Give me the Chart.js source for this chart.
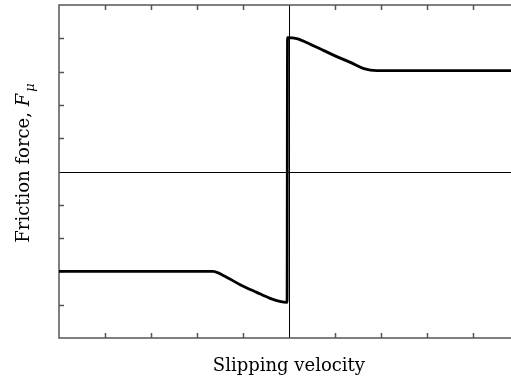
<!DOCTYPE html>
<html>
<head>
<meta charset="utf-8">
<script src="https://cdn.jsdelivr.net/npm/chart.js@4/dist/chart.umd.min.js"></script>
<style>
html,body{margin:0;padding:0;background:#fff;}
#wrap{width:511px;height:380px;}
</style>
</head>
<body>
<div id="wrap"><canvas id="c" width="511" height="380"></canvas></div>
<script>
const velocity = [-5, -1.65, -1.43, -1.07, -0.70, -0.41, -0.20, -0.04, -0.03, 0.17, 0.48, 0.76, 1.04, 1.35, 1.63, 1.91, 4.83];
const friction = [-3.0, -3.0, -3.12, -3.39, -3.63, -3.81, -3.90, -3.93, 4.02, 3.99, 3.81, 3.63, 3.45, 3.27, 3.09, 3.03, 3.03];
const xTicks = [-4, -3, -2, -1, 0, 1, 2, 3, 4];
const yTicks = [-4, -3, -2, -1, 0, 1, 2, 3, 4];
const xLabel = "Slipping velocity";
const yLabelMain = "Friction force, ";
const yLabelSym = "F";
const yLabelSub = "\u03BC";

const points = velocity.map((v, i) => ({x: v, y: friction[i]}));

const framePlugin = {
  id: 'frame',
  beforeDatasetsDraw(chart) {
    const {ctx, chartArea: a, scales: {x, y}} = chart;
    ctx.save();
    ctx.strokeStyle = '#000';
    ctx.lineWidth = 1;
    const x0 = Math.round(x.getPixelForValue(0)) + 0.5;
    const y0 = Math.round(y.getPixelForValue(0)) + 0.5;
    ctx.beginPath();
    ctx.moveTo(a.left, y0); ctx.lineTo(a.right, y0);
    ctx.moveTo(x0, a.top); ctx.lineTo(x0, a.bottom);
    ctx.stroke();
    ctx.strokeStyle = '#555';
    ctx.lineWidth = 1.5;
    ctx.beginPath();
    ctx.moveTo(a.right + 2, a.top); ctx.lineTo(a.left, a.top);
    ctx.lineTo(a.left, a.bottom); ctx.lineTo(a.right + 2, a.bottom);
    ctx.stroke();
    ctx.beginPath();
    xTicks.forEach(t => {
      if (t === 0) return;
      const px = Math.round(x.getPixelForValue(t)) + 0.5;
      ctx.moveTo(px, a.bottom); ctx.lineTo(px, a.bottom - 5);
      ctx.moveTo(px, a.top); ctx.lineTo(px, a.top + 5);
    });
    yTicks.forEach(t => {
      if (t === 0) return;
      const py = Math.round(y.getPixelForValue(t)) + 0.5;
      ctx.moveTo(a.left, py); ctx.lineTo(a.left + 5, py);
    });
    ctx.stroke();
    ctx.fillStyle = '#000';
    ctx.textBaseline = 'alphabetic';
    ctx.font = '18px "DejaVu Serif"';
    ctx.textAlign = 'center';
    ctx.fillText(xLabel, (x.getPixelForValue(-5) + x.getPixelForValue(5)) / 2, 371);
    ctx.translate(29, 163);
    ctx.rotate(-Math.PI / 2);
    ctx.textAlign = 'left';
    const f1 = '18px "DejaVu Serif"';
    const f2 = 'italic 18px "DejaVu Serif"';
    const f3 = 'italic 13px "DejaVu Serif"';
    ctx.font = f1; const w1 = ctx.measureText(yLabelMain).width;
    ctx.font = f2; const w2 = ctx.measureText(yLabelSym).width;
    ctx.font = f3; const w3 = ctx.measureText(yLabelSub).width;
    let sx = -(w1 + w2 + w3 + 2) / 2;
    ctx.font = f1; ctx.fillText(yLabelMain, sx, 0); sx += w1;
    ctx.font = f2; ctx.fillText(yLabelSym, sx, 0); sx += w2 + 2;
    ctx.font = f3; ctx.fillText(yLabelSub, sx, 5);
    ctx.restore();
  }
};

new Chart(document.getElementById('c'), {
  type: 'line',
  data: {
    datasets: [{
      data: points,
      borderColor: '#000',
      borderWidth: 2.8,
      pointRadius: 0,
      fill: false,
      cubicInterpolationMode: 'monotone'
    }]
  },
  options: {
    responsive: false,
    animation: false,
    layout: {padding: {left: 59, top: 5, right: 0, bottom: 42}},
    plugins: {legend: {display: false}, tooltip: {enabled: false}},
    scales: {
      x: {type: 'linear', min: -5, max: 4.83, display: false},
      y: {type: 'linear', min: -5, max: 5, display: false}
    }
  },
  plugins: [framePlugin]
});
</script>
</body>
</html>
